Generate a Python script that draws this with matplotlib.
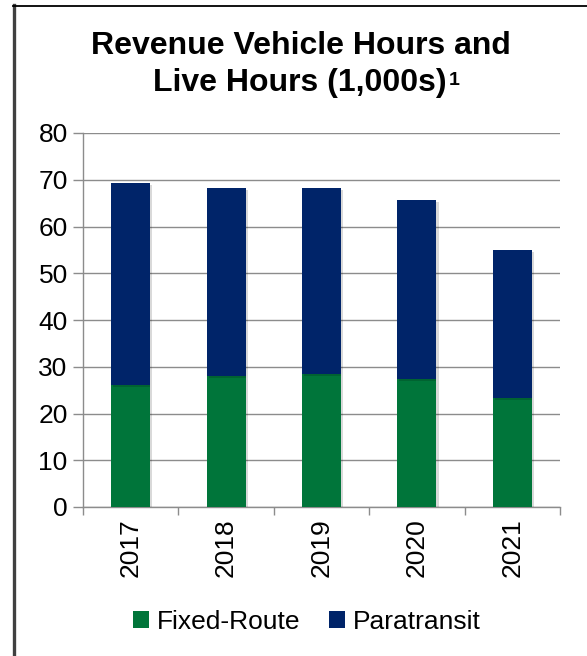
import matplotlib
matplotlib.use("Agg")
import matplotlib.pyplot as plt
import matplotlib.patheffects as pe
from matplotlib.patches import Patch

years = ["2017", "2018", "2019", "2020", "2021"]
fixed_route = [26.2, 28.1, 28.4, 27.4, 23.3]
paratransit = [43.2, 40.1, 39.9, 38.2, 31.6]
y_ticks = [0, 10, 20, 30, 40, 50, 60, 70, 80]

green = "#00753A"
navy = "#002469"

plt.rcParams['font.family'] = ['Liberation Sans', 'DejaVu Sans']

fig = plt.figure(figsize=(5.87, 6.56), dpi=100)
W, H = 587, 656

# outer frame
fig.add_artist(plt.Line2D([13.5 / W, 13.5 / W], [1 - 5 / H, 0], transform=fig.transFigure,
                          color="#404040", lw=2.4))
fig.add_artist(plt.Line2D([13 / W, 1.0], [1 - 5.5 / H, 1 - 5.5 / H], transform=fig.transFigure,
                          color="#000000", lw=1.3))

ax = fig.add_axes([83 / W, 1 - 507 / H, (560 - 83) / W, (507 - 133) / H])
x = range(len(years))
shadow = [pe.SimplePatchShadow(offset=(1.5, -1.5), shadow_rgbFace="#000000", alpha=0.15), pe.Normal()]
b1 = ax.bar(x, fixed_route, width=0.41, color=green, zorder=3, label="Fixed-Route")
b2 = ax.bar(x, paratransit, width=0.41, bottom=fixed_route, color=navy, zorder=3, label="Paratransit")
for b in list(b1) + list(b2):
    b.set_path_effects(shadow)

ax.set_xlim(-0.5, len(years) - 0.5)
ax.set_ylim(0, 80)
ax.set_yticks(y_ticks)
ax.set_yticklabels([str(v) for v in y_ticks], fontsize=19)
ax.set_xticks([i - 0.5 for i in range(len(years) + 1)])
ax.set_xticklabels([])
ax.set_xticks(list(x), minor=True)
ax.set_xticklabels(years, minor=True, rotation=90, fontsize=19)
ax.tick_params(axis='x', which='minor', length=0, pad=8)
ax.tick_params(axis='x', which='major', length=6, color="#8c8c8c", width=1)
ax.tick_params(axis='y', length=7, color="#8c8c8c", width=1, pad=4)
ax.grid(axis='y', color="#8c8c8c", lw=1, zorder=0)
for s in ['top', 'right']:
    ax.spines[s].set_visible(False)
for s in ['left', 'bottom']:
    ax.spines[s].set_color("#8c8c8c")
    ax.spines[s].set_linewidth(1)

# title: two lines, with a small superscript footnote marker
fig.text(301 / W, 1 - 46 / H, "Revenue Vehicle Hours and",
         ha='center', va='center', fontsize=23, fontweight='bold')
t2 = fig.text(300 / W, 1 - 83 / H, "Live Hours (1,000s)",
              ha='center', va='center', fontsize=23, fontweight='bold')
fig.canvas.draw()
bb = t2.get_window_extent()
fig.text((bb.x1 + 2) / W, (bb.y1 - 4) / H, "1", ha='left', va='top',
         fontsize=14, fontweight='bold')

handles = [Patch(facecolor=green, label="Fixed-Route"), Patch(facecolor=navy, label="Paratransit")]
fig.legend(handles=handles, loc='center', bbox_to_anchor=(307 / W, 1 - 622 / H), ncol=2,
           frameon=False, fontsize=19, handlelength=0.6, handleheight=0.6, handletextpad=0.3,
           columnspacing=1.1)

fig.savefig("out.png", dpi=100)
